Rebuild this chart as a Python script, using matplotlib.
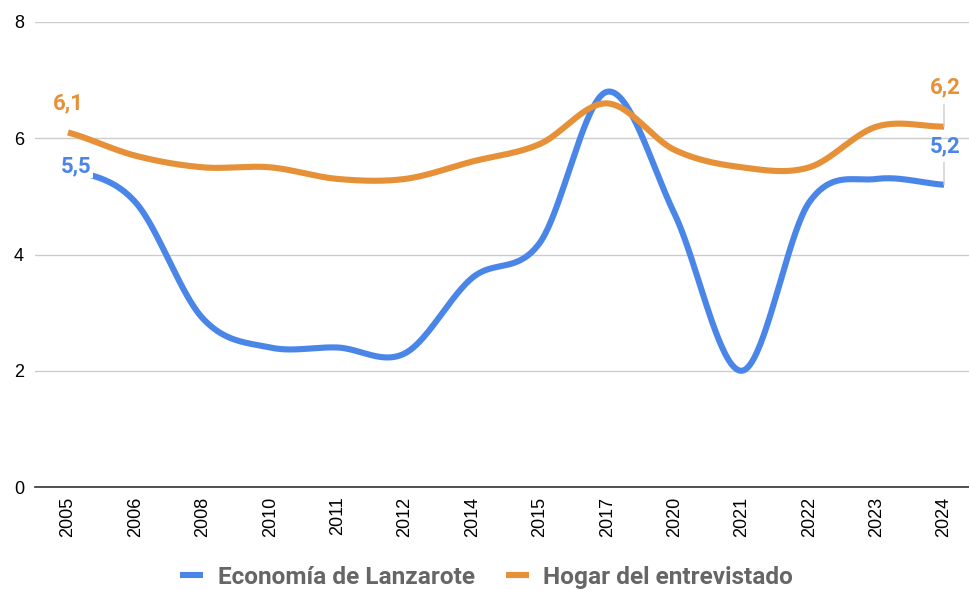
import numpy as np
import matplotlib
matplotlib.use("Agg")
import matplotlib.pyplot as plt

years = ["2005", "2006", "2008", "2010", "2011", "2012", "2014", "2015",
         "2017", "2020", "2021", "2022", "2023", "2024"]
economia = [5.5, 4.9, 2.9, 2.4, 2.4, 2.3, 3.6, 4.2, 6.8, 4.7, 2.0, 4.9, 5.3, 5.2]
hogar = [6.1, 5.7, 5.5, 5.5, 5.3, 5.3, 5.6, 5.9, 6.6, 5.8, 5.5, 5.5, 6.2, 6.2]
series_names = ["Economía de Lanzarote", "Hogar del entrevistado"]
yticks = [0, 2, 4, 6, 8]

BLUE = "#4a86e8"
ORANGE = "#e69138"


def smooth(x, y, n=40, k=0.5):
    """Cubic Hermite curve with Catmull-Rom tangents (rendering only)."""
    x = np.asarray(x, float)
    y = np.asarray(y, float)
    N = len(x)
    m = np.zeros(N)
    for i in range(N):
        a = max(i - 1, 0)
        b = min(i + 1, N - 1)
        m[i] = (y[b] - y[a]) / (x[b] - x[a]) * (2 * k if 0 < i < N - 1 else 0.8)
    xs, ys = [], []
    for i in range(N - 1):
        h = x[i + 1] - x[i]
        s = np.linspace(0, 1, n, endpoint=(i == N - 2))
        h00 = 2 * s ** 3 - 3 * s ** 2 + 1
        h10 = s ** 3 - 2 * s ** 2 + s
        h01 = -2 * s ** 3 + 3 * s ** 2
        h11 = s ** 3 - s ** 2
        xs.append(x[i] + s * h)
        ys.append(h00 * y[i] + h10 * h * m[i] + h01 * y[i + 1] + h11 * h * m[i + 1])
    return np.concatenate(xs), np.concatenate(ys)


fig = plt.figure(figsize=(9.69, 5.90), dpi=100)
ax = fig.add_axes([35 / 969, 103 / 590, 934 / 969, 465 / 590])
x = np.arange(len(years))

for vals, col, name in [(economia, BLUE, series_names[0]), (hogar, ORANGE, series_names[1])]:
    sx, sy = smooth(x, vals)
    ax.plot(sx, sy, color=col, lw=4.4, solid_capstyle="butt", label=name, zorder=3)

ax.set_xlim(-0.49, 13.37)
ax.set_ylim(0, 8)
ax.set_yticks(yticks)
ax.set_yticklabels([str(v) for v in yticks], fontsize=13, family="Liberation Sans")
ax.set_xticks(x)
ax.set_xticklabels(years, rotation=90, fontsize=13, family="Liberation Sans")
ax.tick_params(length=0, pad=8)
ax.tick_params(axis="x", pad=7)
ax.grid(axis="y", color="#cccccc", lw=1)
ax.set_axisbelow(True)
for s in ["top", "right", "left"]:
    ax.spines[s].set_visible(False)
ax.spines["bottom"].set_color("#333333")
ax.spines["bottom"].set_linewidth(1.2)

lab_kw = dict(fontsize=16, fontweight="bold", family="Roboto", ha="center", va="center", zorder=5)
fmt = lambda v: f"{v:.1f}".replace(".", ",")
# first point labels
ax.annotate(fmt(hogar[0]), (x[0], hogar[0]), xytext=(0, 21), textcoords="offset points", color=ORANGE, **lab_kw)
ax.annotate(fmt(economia[0]), (x[0], economia[0]), xytext=(6, 1), textcoords="offset points", color=BLUE,
            bbox=dict(boxstyle="square,pad=0.05", fc="white", ec="none"), **lab_kw)
# last point labels with leader lines
for vals, col in [(hogar, ORANGE), (economia, BLUE)]:
    ax.annotate(fmt(vals[-1]), (x[-1], vals[-1]), xytext=(1, 28), textcoords="offset points", color=col,
                arrowprops=dict(arrowstyle="-", color="#cccccc", lw=1, shrinkA=2, shrinkB=0,
                                relpos=(0.45, 0)), **lab_kw)

leg = ax.legend(loc="center", bbox_to_anchor=(0.4834, -0.194), ncol=2, frameon=False,
                prop=dict(family="Roboto", weight="bold", size=17.6), handlelength=0.95,
                columnspacing=1.27, handletextpad=0.6)
for t in leg.get_texts():
    t.set_color("#666666")

fig.savefig("out.png", dpi=100)
